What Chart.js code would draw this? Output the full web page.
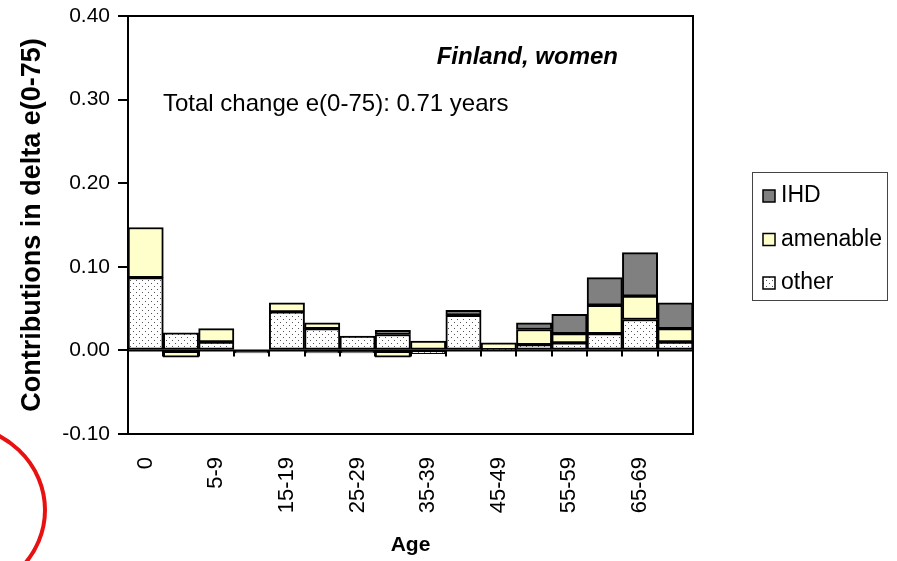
<!DOCTYPE html>
<html>
<head>
<meta charset="utf-8">
<title>Finland, women</title>
<script src="https://cdn.jsdelivr.net/npm/chart.js@4.4.1/dist/chart.umd.min.js"></script>
<style>
  html, body { margin: 0; padding: 0; background: #fff; }
  #wrap { width: 897px; height: 561px; }
</style>
</head>
<body>
<div id="wrap"><canvas id="chart" width="897" height="561"></canvas></div>
<script>
// Contributions of age groups to the change in e(0-75), Finland, women.
const ages = ['0', '1-4', '5-9', '10-14', '15-19', '20-24', '25-29', '30-34',
              '35-39', '40-44', '45-49', '50-54', '55-59', '60-64', '65-69', '70-74'];
const shownAges = ['0', '5-9', '15-19', '25-29', '35-39', '45-49', '55-59', '65-69'];

const other    = [0.087, 0.021, 0.010, 0.000, 0.046, 0.026, 0.017, 0.019, -0.004, 0.042, 0.001, 0.007, 0.009, 0.020, 0.037, 0.010];
const amenable = [0.060, -0.008, 0.016, 0.000, 0.011, 0.007, 0.000, -0.008, 0.011, 0.000, 0.008, 0.018, 0.011, 0.034, 0.028, 0.016];
const ihd      = [0.000, 0.000, 0.000, -0.003, 0.000, -0.003, -0.003, 0.005, 0.000, 0.006, 0.000, 0.008, 0.023, 0.033, 0.052, 0.031];

const yMin = -0.10, yMax = 0.40, yStep = 0.10;

const FONT = "'Liberation Sans', Arial, sans-serif";

// dotted fill used for "other"
function dotPattern() {
  const c = document.createElement('canvas');
  c.width = 6; c.height = 6;
  const g = c.getContext('2d');
  g.fillStyle = '#fff';
  g.fillRect(0, 0, 6, 6);
  g.fillStyle = '#555';
  g.fillRect(1, 1, 1, 1);
  g.fillRect(4, 4, 1, 1);
  return g.createPattern(c, 'repeat');
}

// plot frame, category axis at zero with tick marks, notes, legend box
const extras = {
  id: 'extras',
  afterDatasetsDraw(chart) {
    const { ctx, chartArea: a, scales: { x, y } } = chart;
    const y0 = y.getPixelForValue(0);
    ctx.save();
    ctx.strokeStyle = '#000';
    ctx.lineWidth = 2;
    ctx.beginPath();
    ctx.moveTo(a.left, y0);
    ctx.lineTo(a.right, y0);
    for (let i = 0; i <= ages.length; i++) {
      const px = Math.round(x.getPixelForValue(i - 0.5));
      ctx.moveTo(px, y0);
      ctx.lineTo(px, y0 + 6);
    }
    ctx.stroke();
    ctx.strokeRect(a.left, a.top, a.right - a.left, a.bottom - a.top);
    ctx.restore();
  },
  afterDraw(chart) {
    const ctx = chart.ctx;
    ctx.save();
    ctx.fillStyle = '#000';
    ctx.textBaseline = 'middle';

    ctx.font = `italic bold 24px ${FONT}`;
    ctx.textAlign = 'right';
    ctx.fillText('Finland, women', 618, 57);

    ctx.font = `24px ${FONT}`;
    ctx.textAlign = 'left';
    ctx.fillText('Total change e(0-75): 0.71 years', 163, 104);

    // legend box on the right, top item = last stacked series
    ctx.strokeStyle = '#444';
    ctx.lineWidth = 1;
    ctx.strokeRect(752.5, 172.5, 135, 128);
    const items = chart.data.datasets.slice().reverse();
    items.forEach((ds, i) => {
      const cy = 196 + i * 43.5;
      ctx.fillStyle = ds.backgroundColor;
      ctx.fillRect(763, cy - 6, 12, 12);
      ctx.strokeStyle = '#000';
      ctx.lineWidth = 1.5;
      ctx.strokeRect(763, cy - 6, 12, 12);
      ctx.fillStyle = '#000';
      ctx.font = `23px ${FONT}`;
      ctx.fillText(ds.label, 781, cy);
    });

    // red pen mark in the lower-left corner
    ctx.strokeStyle = '#e81010';
    ctx.lineWidth = 4;
    ctx.beginPath();
    ctx.ellipse(-45, 510, 90, 85, 0, -Math.PI / 2, Math.PI / 2);
    ctx.stroke();
    ctx.restore();
  }
};

const barStyle = { borderColor: '#000', borderWidth: 2, borderSkipped: false,
                   barPercentage: 1, categoryPercentage: 1 };

new Chart(document.getElementById('chart'), {
  type: 'bar',
  data: {
    labels: ages,
    datasets: [
      { label: 'other', data: other, backgroundColor: dotPattern(), ...barStyle },
      { label: 'amenable', data: amenable, backgroundColor: '#ffffcc', ...barStyle },
      { label: 'IHD', data: ihd, backgroundColor: '#808080', ...barStyle }
    ]
  },
  options: {
    responsive: false,
    animation: false,
    layout: { padding: { left: 0, top: 16, right: 204, bottom: 0 } },
    plugins: { legend: { display: false }, tooltip: { enabled: false } },
    scales: {
      x: {
        stacked: true,
        afterFit: (s) => { s.height = 127; },
        grid: { display: false, drawTicks: false },
        border: { display: false },
        ticks: {
          autoSkip: false, maxRotation: 90, minRotation: 90, padding: 23,
          color: '#000', font: { family: FONT, size: 22 },
          callback: (v, i) => shownAges.includes(ages[i]) ? ages[i] : ''
        },
        title: { display: true, text: 'Age', color: '#000',
                 font: { family: FONT, size: 21, weight: 'bold' }, padding: { top: 0, bottom: 3 } }
      },
      y: {
        stacked: true,
        min: yMin, max: yMax,
        afterFit: (s) => { s.width = 128; s.paddingTop = 0; s.paddingBottom = 0; },
        grid: { drawOnChartArea: false, drawTicks: true, tickLength: 10, color: '#000', lineWidth: 2 },
        border: { display: false },
        ticks: { stepSize: yStep, padding: 8, color: '#000', font: { family: FONT, size: 21 },
                 callback: (v) => v.toFixed(2) },
        title: { display: true, text: 'Contributions in delta e(0-75)', color: '#000',
                 font: { family: FONT, size: 27, weight: 'bold' }, padding: { top: 16, bottom: 0 } }
      }
    }
  },
  plugins: [extras]
});
</script>
</body>
</html>
